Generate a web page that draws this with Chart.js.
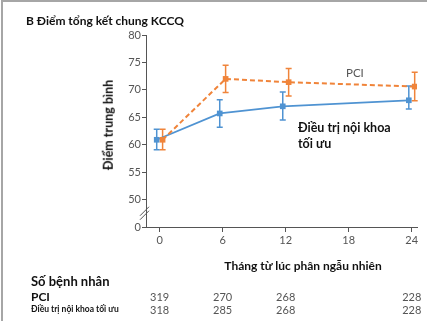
<!DOCTYPE html>
<html>
<head>
<meta charset="utf-8">
<script src="https://cdn.jsdelivr.net/npm/chart.js@4/dist/chart.umd.min.js"></script>
<style>
    html, body { margin: 0; padding: 0; background: #fff; }
    body { width: 427px; height: 321px; position: relative; overflow: hidden; font-family: Lato, "Open Sans", sans-serif; }
    #khung { position: absolute; left: 1px; top: 0; width: 430px; height: 330px; border-left: 2px solid #a6a6a6; border-top: 2px solid #a6a6a6; }
    #wrap { position: absolute; left: 0; top: 0; width: 427px; height: 321px; }
    .txt { position: absolute; white-space: nowrap; line-height: 1; }
    #judul { left: 26px; top: 15px; font-size: 12px; font-weight: 700; color: #111; }
    #judulY { left: 109px; top: 125px; font-size: 12.5px; font-weight: 700; color: #111; transform: translate(-50%, -50%) rotate(-90deg); }
    #judulX { left: 303px; top: 260px; font-size: 12px; font-weight: 700; color: #111; transform: translateX(-50%); }
    #labelPci { left: 346px; top: 67px; font-size: 11.5px; color: #555; }
    #labelOmt { left: 298px; top: 120px; font-size: 12.5px; font-weight: 700; color: #111; line-height: 16px; }
    #sbn { left: 31px; top: 275px; font-size: 13px; font-weight: 700; color: #111; }
    #rowPci { left: 31px; top: 291px; font-size: 12px; font-weight: 700; color: #111; }
    #rowOmt { left: 31px; top: 305px; font-size: 8.5px; font-weight: 700; color: #111; }
    .angka { font-size: 11px; color: #555; transform: translateX(-50%); }
</style>
</head>
<body>
<div id="khung"></div>
<div id="wrap"><canvas id="grafik" width="427" height="321"></canvas></div>
<div class="txt" id="judul">B Điểm tổng kết chung KCCQ</div>
<div class="txt" id="judulY">Điểm trung bình</div>
<div class="txt" id="judulX">Tháng từ lúc phân ngẫu nhiên</div>
<div class="txt" id="labelPci">PCI</div>
<div class="txt" id="labelOmt">Điều trị nội khoa<br>tối ưu</div>
<div class="txt" id="sbn">Số bệnh nhân</div>
<div class="txt" id="rowPci">PCI</div>
<div class="txt" id="rowOmt">Điều trị nội khoa tối ưu</div>
<script>
// data
const bulan = [0, 6, 12, 24];
const tickBulan = [0, 6, 12, 18, 24];
const tickSkor = [45, 50, 55, 60, 65, 70, 75, 80];

const pciRata = [60.9, 72.0, 71.4, 70.6];
const pciBawah = [59.1, 69.5, 68.9, 68.0];
const pciAtas = [62.8, 74.5, 73.9, 73.2];

const omtRata = [60.9, 65.7, 67.0, 68.1];
const omtBawah = [59.1, 63.2, 64.5, 66.5];
const omtAtas = [62.8, 68.2, 69.6, 70.7];

const jumlahPci = [319, 270, 268, 228];
const jumlahOmt = [318, 285, 268, 228];

const warnaPci = "#f0843a";
const warnaOmt = "#4f93d2";
const geser = 0.28;

const buatTitik = (nilai, dx) => nilai.map((v, i) => ({ x: bulan[i] + dx, y: v }));

const pluginErrorBar = {
    id: "errorBar",
    beforeDatasetsDraw(chart) {
        const ctx = chart.ctx;
        const sy = chart.scales.y;
        chart.data.datasets.forEach((ds, di) => {
            const meta = chart.getDatasetMeta(di);
            ctx.save();
            ctx.strokeStyle = ds.borderColor;
            ctx.lineWidth = 1.5;
            meta.data.forEach((pt, i) => {
                const y1 = sy.getPixelForValue(ds.bawah[i]);
                const y2 = sy.getPixelForValue(ds.atas[i]);
                ctx.beginPath();
                ctx.moveTo(pt.x, y1);
                ctx.lineTo(pt.x, y2);
                ctx.moveTo(pt.x - 3, y1);
                ctx.lineTo(pt.x + 3, y1);
                ctx.moveTo(pt.x - 3, y2);
                ctx.lineTo(pt.x + 3, y2);
                ctx.stroke();
            });
            ctx.restore();
        });
    },
    afterDraw(chart) {
        // tanda patah sumbu y
        const ctx = chart.ctx;
        const x = chart.scales.x.left;
        const yb = chart.scales.y.getPixelForValue(47.6);
        ctx.save();
        ctx.strokeStyle = "#555";
        ctx.lineWidth = 1;
        [-2, 2].forEach((d) => {
            ctx.beginPath();
            ctx.moveTo(x - 6, yb + 5 + d);
            ctx.lineTo(x + 3, yb - 4 + d);
            ctx.stroke();
        });
        ctx.restore();
    },
};

const grafik = new Chart(document.getElementById("grafik"), {
    type: "line",
    data: {
        datasets: [
            {
                label: "PCI",
                data: buatTitik(pciRata, geser),
                bawah: pciBawah,
                atas: pciAtas,
                borderColor: warnaPci,
                backgroundColor: warnaPci,
                borderWidth: 2,
                borderDash: [5, 3],
                pointStyle: "rect",
                pointRadius: 4,
                pointBorderWidth: 0,
                tension: 0,
            },
            {
                label: "Điều trị nội khoa tối ưu",
                data: buatTitik(omtRata, -geser),
                bawah: omtBawah,
                atas: omtAtas,
                borderColor: warnaOmt,
                backgroundColor: warnaOmt,
                borderWidth: 1.8,
                pointStyle: "rect",
                pointRadius: 4,
                pointBorderWidth: 0,
                tension: 0,
            },
        ],
    },
    options: {
        responsive: false,
        animation: false,
        devicePixelRatio: 1,
        layout: {
            padding: { left: 0, top: 35, right: 10, bottom: 74 },
        },
        plugins: {
            legend: { display: false },
            tooltip: { enabled: false },
        },
        scales: {
            x: {
                type: "linear",
                min: -1.3,
                max: 24.5,
                afterBuildTicks: (scale) => {
                    scale.ticks = tickBulan.map((v) => ({ value: v }));
                },
                afterFit: (scale) => {
                    scale.height = 20;
                },
                border: { color: "#555", width: 1 },
                grid: {
                    display: true,
                    drawOnChartArea: false,
                    drawTicks: true,
                    tickLength: 5,
                    color: "#555",
                },
                ticks: {
                    color: "#555",
                    padding: 2,
                    maxRotation: 0,
                    font: { family: "Lato", size: 11 },
                },
            },
            y: {
                min: 45,
                max: 80,
                afterBuildTicks: (scale) => {
                    scale.ticks = tickSkor.map((v) => ({ value: v }));
                },
                afterFit: (scale) => {
                    scale.width = 146;
                },
                border: { color: "#555", width: 1 },
                grid: {
                    display: true,
                    drawOnChartArea: false,
                    drawTicks: true,
                    tickLength: 4,
                    color: "#555",
                },
                ticks: {
                    color: "#555",
                    padding: 1,
                    font: { family: "Lato", size: 11 },
                    callback: (v) => (v === 45 ? "0" : String(v)),
                },
            },
        },
    },
    plugins: [pluginErrorBar],
});

// angka pasien di bawah tiap bulan
[[jumlahPci, 291], [jumlahOmt, 304]].forEach(([baris, atas]) => {
    baris.forEach((n, i) => {
        const el = document.createElement("div");
        el.className = "txt angka";
        el.textContent = n;
        el.style.left = grafik.scales.x.getPixelForValue(bulan[i]) + "px";
        el.style.top = atas + "px";
        document.body.appendChild(el);
    });
});
</script>
</body>
</html>
